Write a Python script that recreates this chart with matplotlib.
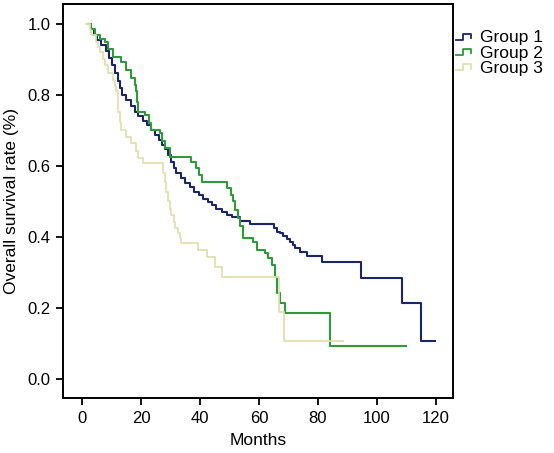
import matplotlib
matplotlib.use("Agg")
import matplotlib.pyplot as plt
from matplotlib.lines import Line2D
from matplotlib.legend_handler import HandlerLine2D

plt.rcParams['font.family'] = ['Liberation Sans', 'DejaVu Sans']

# Kaplan-Meier steps: (time, survival after the step)
g1_time = [2, 3, 4, 5, 6.5, 8, 9, 10, 11, 12, 12.8, 13.5, 15, 16.5, 17.8, 19, 20.5, 22,
           23.5, 24.6, 26, 27, 28, 29, 30, 31, 32, 33.5, 35, 36.5, 38, 39.5, 41, 42.7,
           44, 45.5, 47.3, 49, 51, 53.5, 57, 65, 66, 67, 68.2, 69.5, 70.5, 71.5, 72.2,
           73.9, 76.2, 81.6, 94.6, 108.6, 115, 119.8]
g1_surv = [1.0, 0.985, 0.97, 0.955, 0.94, 0.925, 0.905, 0.885, 0.862, 0.84, 0.82, 0.80,
           0.785, 0.77, 0.753, 0.74, 0.728, 0.715, 0.70, 0.687, 0.673, 0.66, 0.648, 0.63,
           0.61, 0.595, 0.58, 0.565, 0.552, 0.54, 0.528, 0.518, 0.508, 0.498, 0.49, 0.48,
           0.471, 0.463, 0.455, 0.446, 0.436, 0.425, 0.415, 0.41, 0.403, 0.395, 0.387,
           0.378, 0.37, 0.359, 0.346, 0.33, 0.284, 0.213, 0.107, 0.107]

g2_time = [2, 3, 4.2, 6, 7.6, 8.7, 10.4, 13.3, 15, 16.7, 17.8, 18.4, 18.7, 18.9, 21.2,
           22.5, 23.5, 26.3, 27, 28, 29.7, 37, 38.5, 39.5, 40.5, 49.3, 50.5, 51.2, 52,
           52.9, 53.7, 54.6, 58, 59.2, 62, 63, 64.3, 65.4, 66, 67.1, 68.8, 84.1, 109.9]
g2_surv = [1.0, 0.985, 0.969, 0.958, 0.948, 0.93, 0.908, 0.894, 0.87, 0.847, 0.828, 0.81,
           0.78, 0.753, 0.744, 0.72, 0.70, 0.692, 0.67, 0.65, 0.626, 0.61, 0.594, 0.575,
           0.556, 0.537, 0.518, 0.50, 0.475, 0.453, 0.43, 0.396, 0.387, 0.363, 0.354, 0.34,
           0.321, 0.288, 0.241, 0.213, 0.185, 0.093, 0.093]

g3_time = [1.4, 2.5, 3, 4.8, 5.5, 5.9, 7, 7.6, 8.7, 10.4, 11, 11.6, 12, 12.1, 12.8, 13.3,
           15, 16.7, 18.4, 18.9, 20.6, 27.4, 28, 28.6, 29.1, 29.7, 30.3, 31, 31.4, 32.5,
           33.1, 33.7, 39.3, 42.2, 45, 47.3, 66.8, 68.5, 88.6]
g3_surv = [1.0, 0.983, 0.969, 0.95, 0.936, 0.922, 0.9, 0.885, 0.861, 0.842, 0.826, 0.81,
           0.78, 0.753, 0.725, 0.70, 0.683, 0.664, 0.643, 0.622, 0.607, 0.58, 0.556, 0.528,
           0.5, 0.48, 0.462, 0.443, 0.424, 0.41, 0.396, 0.382, 0.363, 0.345, 0.316, 0.288,
           0.19, 0.107, 0.107]

groups = ["Group 1", "Group 2", "Group 3"]
colors = ["#1c2566", "#2e9a3a", "#dfe0b0"]
widths = [1.5, 1.5, 1.3]


class StepHandler(HandlerLine2D):
    def create_artists(self, legend, orig_handle, xdescent, ydescent, width, height,
                       fontsize, trans):
        x0 = -xdescent
        lo = -ydescent + 0.2 * height
        hi = -ydescent + 0.7 * height
        xs = [x0, x0 + 0.4 * width, x0 + 0.4 * width, x0 + 0.9 * width, x0 + 0.9 * width]
        ys = [lo, lo, hi, hi, lo + 0.15 * height]
        line = Line2D(xs, ys, color=orig_handle.get_color(), lw=1.3)
        line.set_transform(trans)
        return [line]


fig = plt.figure(figsize=(5.54, 4.53), dpi=100)
ax = fig.add_axes([0.114, 0.121, 0.704, 0.870])

handles = []
for t, s, name, c, w in zip([g1_time, g2_time, g3_time], [g1_surv, g2_surv, g3_surv],
                            groups, colors, widths):
    h, = ax.step(t, s, where='post', color=c, lw=w, label=name)
    handles.append(h)

ax.set_xlim(-6.5, 126)
ax.set_ylim(-0.054, 1.056)
ax.set_xticks([0, 20, 40, 60, 80, 100, 120])
ax.set_yticks([0.0, 0.2, 0.4, 0.6, 0.8, 1.0])
ax.set_yticklabels([f"{v:.1f}" for v in [0.0, 0.2, 0.4, 0.6, 0.8, 1.0]])
ax.tick_params(direction='out', length=5, width=1.3, labelsize=12, color='black',
               pad=4)
for sp in ax.spines.values():
    sp.set_linewidth(1.4)
ax.set_xlabel("Months", fontsize=12.5, labelpad=5)
ax.set_ylabel("Overall survival rate (%)", fontsize=12.5, labelpad=6)

ax.legend(handles=handles, loc='upper left', bbox_to_anchor=(1.0, 0.94), frameon=False,
          fontsize=12.5, handlelength=1.0, handletextpad=0.4, labelspacing=0.0,
          borderaxespad=0.0, borderpad=0.15, handler_map={Line2D: StepHandler()})

fig.savefig("out.png", dpi=100)
